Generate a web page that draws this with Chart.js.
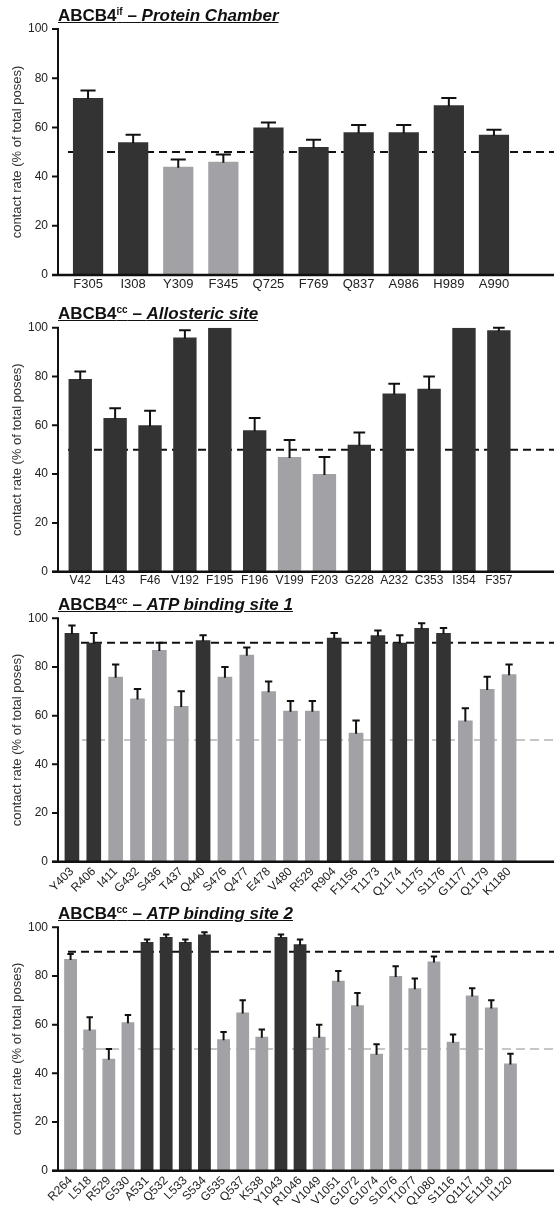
<!DOCTYPE html>
<html lang="en">
<head>
<meta charset="UTF-8" />
<title>ABCB4 contact rates</title>
<script src="https://cdn.jsdelivr.net/npm/chart.js"></script>
<style>
    body {
        margin: 0;
        background: #fff;
        font-family: Arial, 'Liberation Sans', sans-serif;
    }
    .wrap { position: relative; width: 554px; height: 1208px; overflow: hidden; }
    .panel { position: absolute; left: 0; width: 554px; }
    .panel canvas { position: absolute; left: 0; top: 0; }
    .title {
        position: absolute;
        left: 58px;
        font: bold 17px Arial, 'Liberation Sans', sans-serif;
        line-height: 1;
        color: #111;
        text-decoration: underline;
        white-space: nowrap;
        z-index: 2;
    }
    .title sup { font-size: 10px; vertical-align: 6px; line-height: 0; }
</style>
</head>
<body>
<div class="wrap">
    <div class="panel" id="p1" style="top:0;height:302px">
        <div class="title" style="top:7px">ABCB4<sup>if</sup> – <i>Protein Chamber</i></div>
        <canvas id="c1" width="554" height="302"></canvas>
    </div>
    <div class="panel" id="p2" style="top:292px;height:302px">
        <div class="title" style="top:13px">ABCB4<sup>cc</sup> – <i>Allosteric site</i></div>
        <canvas id="c2" width="554" height="302"></canvas>
    </div>
    <div class="panel" id="p3" style="top:587px;height:312px">
        <div class="title" style="top:9px">ABCB4<sup>cc</sup> – <i>ATP binding site 1</i></div>
        <canvas id="c3" width="554" height="312"></canvas>
    </div>
    <div class="panel" id="p4" style="top:895px;height:313px">
        <div class="title" style="top:10px">ABCB4<sup>cc</sup> – <i>ATP binding site 2</i></div>
        <canvas id="c4" width="554" height="313"></canvas>
    </div>
</div>

<script>
    // data (mean contact rate, upper error, dark/grey group)
    const yTicks = [0, 20, 40, 60, 80, 100];

    const p1Labels = ['F305', 'I308', 'Y309', 'F345', 'Q725', 'F769', 'Q837', 'A986', 'H989', 'A990'];
    const p1Means = [72, 54, 44, 46, 60, 52, 58, 58, 69, 57];
    const p1Err = [3, 3, 3, 3, 2, 3, 3, 3, 3, 2];
    const p1Groups = ['hi', 'hi', 'lo', 'lo', 'hi', 'hi', 'hi', 'hi', 'hi', 'hi'];
    const p1Cutoffs = [50];

    const p2Labels = ['V42', 'L43', 'F46', 'V192', 'F195', 'F196', 'V199', 'F203', 'G228', 'A232', 'C353', 'I354', 'F357'];
    const p2Means = [79, 63, 60, 96, 100, 58, 47, 40, 52, 73, 75, 100, 99];
    const p2Err = [3, 4, 6, 3, 0, 5, 7, 7, 5, 4, 5, 0, 1];
    const p2Groups = ['hi', 'hi', 'hi', 'hi', 'hi', 'hi', 'lo', 'lo', 'hi', 'hi', 'hi', 'hi', 'hi'];
    const p2Cutoffs = [50];

    const p3Labels = ['Y403', 'R406', 'I411', 'G432', 'S436', 'T437', 'Q440', 'S476', 'Q477', 'E478', 'V480',
        'R529', 'R904', 'F1156', 'T1173', 'Q1174', 'L1175', 'S1176', 'G1177', 'Q1179', 'K1180'];
    const p3Means = [94, 90, 76, 67, 87, 64, 91, 76, 85, 70, 62, 62, 92, 53, 93, 90, 96, 94, 58, 71, 77];
    const p3Err = [3, 4, 5, 4, 3, 6, 2, 4, 3, 4, 4, 4, 2, 5, 2, 3, 2, 2, 5, 5, 4];
    const p3Groups = ['hi', 'hi', 'lo', 'lo', 'lo', 'lo', 'hi', 'lo', 'lo', 'lo', 'lo',
        'lo', 'hi', 'lo', 'hi', 'hi', 'hi', 'hi', 'lo', 'lo', 'lo'];
    const p3Cutoffs = [90, 50];

    const p4Labels = ['R264', 'L518', 'R529', 'G530', 'A531', 'Q532', 'L533', 'S534', 'G535', 'Q537', 'K538', 'Y1043',
        'R1046', 'V1049', 'V1051', 'G1072', 'G1074', 'S1076', 'T1077', 'Q1080', 'S1116', 'Q1117', 'E1118', 'I1120'];
    const p4Means = [87, 58, 46, 61, 94, 96, 94, 97, 54, 65, 55, 96, 93, 55, 78, 68, 48, 80, 75, 86, 53, 72, 67, 44];
    const p4Err = [2, 5, 4, 3, 1, 1, 1, 1, 3, 5, 3, 1, 2, 5, 4, 5, 4, 4, 4, 2, 3, 3, 3, 4];
    const p4Groups = ['lo', 'lo', 'lo', 'lo', 'hi', 'hi', 'hi', 'hi', 'lo', 'lo', 'lo', 'hi',
        'hi', 'lo', 'lo', 'lo', 'lo', 'lo', 'lo', 'lo', 'lo', 'lo', 'lo', 'lo'];
    const p4Cutoffs = [90, 50];

    const DARK = '#333333';
    const GREY = '#a2a2a6';
    const FONT = 'Arial, "Liberation Sans", sans-serif';

    // draws the axis lines, tick marks, cut-off lines and upper error bars
    const extras = {
        id: 'extras',
        beforeDatasetsDraw(chart, args, o) {
            const ctx = chart.ctx, y = chart.scales.y;
            ctx.save();
            o.cutoffs.forEach((v, i) => {
                const py = y.getPixelForValue(v);
                ctx.beginPath();
                if (i === 0) {
                    ctx.strokeStyle = '#111';
                    ctx.lineWidth = 2;
                    ctx.setLineDash([8, 5]);
                } else {
                    ctx.strokeStyle = '#b4b4b4';
                    ctx.lineWidth = 1.5;
                    ctx.setLineDash([9, 5]);
                }
                ctx.moveTo(o.axisX + 10, py);
                ctx.lineTo(chart.width, py);
                ctx.stroke();
            });
            ctx.restore();
        },
        afterDatasetsDraw(chart, args, o) {
            const ctx = chart.ctx, y = chart.scales.y, a = chart.chartArea;
            const meta = chart.getDatasetMeta(0);
            ctx.save();
            ctx.strokeStyle = '#111';
            ctx.lineWidth = 2;
            o.err.forEach((e, i) => {
                if (!e) return;
                const bar = meta.data[i];
                const top = y.getPixelForValue(o.means[i]);
                const hi = y.getPixelForValue(o.means[i] + e);
                const half = bar.width / 4;
                ctx.beginPath();
                ctx.moveTo(bar.x, top + 1);
                ctx.lineTo(bar.x, hi);
                ctx.moveTo(bar.x - half, hi);
                ctx.lineTo(bar.x + half, hi);
                ctx.stroke();
            });
            // y axis
            ctx.beginPath();
            ctx.moveTo(o.axisX, a.top - 1);
            ctx.lineTo(o.axisX, a.bottom);
            y.ticks.forEach(t => {
                const py = y.getPixelForValue(t.value);
                ctx.moveTo(o.axisX - 6, py);
                ctx.lineTo(o.axisX, py);
            });
            ctx.stroke();
            // x axis
            ctx.beginPath();
            ctx.lineWidth = 2.5;
            ctx.moveTo(o.axisX - 6, a.bottom);
            ctx.lineTo(chart.width, a.bottom);
            ctx.stroke();
            ctx.restore();
        }
    };

    function makeChart(id, labels, means, err, groups, cutoffs, box) {
        const canvas = document.getElementById(id);
        const H = canvas.height, W = canvas.width;
        return new Chart(canvas, {
            type: 'bar',
            data: {
                labels: labels,
                datasets: [{
                    data: means,
                    backgroundColor: groups.map(g => g === 'hi' ? DARK : GREY),
                    borderWidth: 0,
                    barPercentage: 0.67,
                    categoryPercentage: 1
                }]
            },
            options: {
                responsive: false,
                animation: false,
                layout: { padding: { top: box.top, right: W - box.right, left: 0, bottom: 0 } },
                plugins: {
                    legend: { display: false },
                    tooltip: { enabled: false },
                    extras: { cutoffs: cutoffs, err: err, means: means, axisX: box.axisX }
                },
                scales: {
                    x: {
                        grid: { display: false, drawTicks: false },
                        border: { display: false },
                        ticks: {
                            autoSkip: false,
                            maxRotation: box.rot,
                            minRotation: box.rot,
                            padding: box.rot ? 3 : 2,
                            color: '#222',
                            font: { family: FONT, size: box.xFont }
                        },
                        afterFit: s => { s.height = H - box.bottom; }
                    },
                    y: {
                        min: 0,
                        max: 100,
                        afterBuildTicks: s => { s.ticks = yTicks.map(v => ({ value: v })); },
                        grid: { display: false, drawTicks: false },
                        border: { display: false },
                        ticks: {
                            padding: box.left - box.axisX + 10,
                            color: '#222',
                            font: { family: FONT, size: 12 }
                        },
                        title: {
                            display: true,
                            text: 'contact rate (% of total poses)',
                            color: '#333',
                            padding: { top: 10, bottom: 0 },
                            font: { family: FONT, size: 13 }
                        },
                        afterFit: s => { s.width = box.left; }
                    }
                }
            },
            plugins: [extras]
        });
    }

    makeChart('c1', p1Labels, p1Means, p1Err, p1Groups, p1Cutoffs,
        { top: 29, bottom: 275, left: 65.5, right: 516.5, axisX: 58, rot: 0, xFont: 13 });
    makeChart('c2', p2Labels, p2Means, p2Err, p2Groups, p2Cutoffs,
        { top: 35.7, bottom: 279.7, left: 62.8, right: 516.3, axisX: 58, rot: 0, xFont: 12 });
    makeChart('c3', p3Labels, p3Means, p3Err, p3Groups, p3Cutoffs,
        { top: 31.3, bottom: 274.7, left: 61, right: 520, axisX: 58, rot: 45, xFont: 12 });
    makeChart('c4', p4Labels, p4Means, p4Err, p4Groups, p4Cutoffs,
        { top: 32.3, bottom: 275.7, left: 61, right: 520, axisX: 58, rot: 45, xFont: 12 });
</script>
</body>
</html>
